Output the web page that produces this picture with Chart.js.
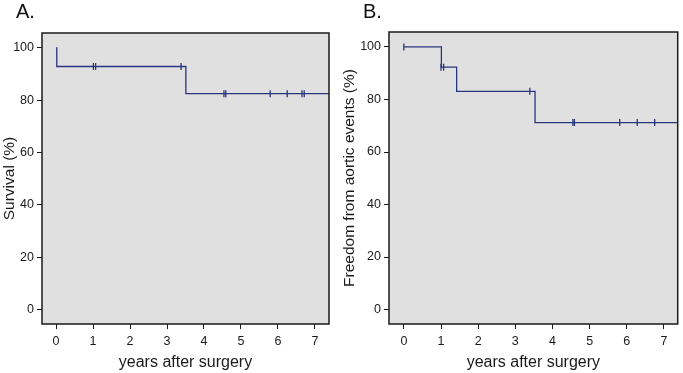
<!DOCTYPE html>
<html>
<head>
<meta charset="utf-8">
<script src="https://cdn.jsdelivr.net/npm/chart.js@4.4.1/dist/chart.umd.min.js"></script>
<style>
  body { margin: 0; background: #fff; font-family: "Liberation Sans", Arial, sans-serif; }
  .panel { position: absolute; top: 0; height: 373px; }
  .letter { position: absolute; top: 0; font-size: 20px; line-height: 22px; color: #111; }
</style>
</head>
<body>
<div class="panel" style="left:0;width:340px">
  <div class="letter" style="left:16px">A.</div>
  <canvas id="chartA" width="340" height="373"></canvas>
</div>
<div class="panel" style="left:340px;width:343px">
  <div class="letter" style="left:23px">B.</div>
  <canvas id="chartB" width="343" height="373"></canvas>
</div>
<script>
// tick labels
const xTicks = [0, 1, 2, 3, 4, 5, 6, 7];
const yTicks = [0, 20, 40, 60, 80, 100];

// A. survival - step curve
const survTimes = [0, 0.02, 3.51, 7.4];
const survValues = [100, 92.9, 82.5, 82.5];
// A. censored patients
const survCensorTimes = [1.01, 1.07, 3.38, 4.54, 4.59, 5.79, 6.25, 6.65, 6.71];
const survCensorValues = [92.9, 92.9, 92.9, 82.5, 82.5, 82.5, 82.5, 82.5, 82.5];

// B. freedom from aortic events - step curve
const aortTimes = [0, 1.01, 1.42, 3.53, 7.4];
const aortValues = [100, 92.3, 83.1, 71.2, 71.2];
// B. censored patients
const aortCensorTimes = [0, 1.0, 1.07, 3.39, 4.55, 4.59, 5.81, 6.28, 6.75];
const aortCensorValues = [100, 92.3, 92.3, 83.1, 71.2, 71.2, 71.2, 71.2, 71.2];

const corLinha = '#27357d';
const fonte = '"Liberation Sans", Arial, sans-serif';

const fundoCaixa = {
    id: 'fundoCaixa',
    beforeDatasetsDraw(chart) {
        const a = chart.chartArea, c = chart.ctx;
        c.save();
        c.fillStyle = '#e0e0e0';
        c.fillRect(a.left, a.top, a.right - a.left, a.bottom - a.top);
        c.restore();
    },
    afterDraw(chart) {
        const a = chart.chartArea, c = chart.ctx;
        c.save();
        c.strokeStyle = '#1a1a1a';
        c.lineWidth = 1.5;
        c.strokeRect(a.left, a.top, a.right - a.left, a.bottom - a.top);
        c.restore();
    }
};

function pares(xs, ys) {
    return xs.map((x, i) => ({ x: x, y: ys[i] }));
}

function criarGrafico(id, tempos, valores, tCens, vCens, yTitulo, cfg) {
    const ctx = document.getElementById(id).getContext('2d');
    return new Chart(ctx, {
        type: 'scatter',
        data: {
            datasets: [{
                data: pares(tempos, valores),
                showLine: true,
                stepped: true,
                borderColor: corLinha,
                borderWidth: 1.3,
                pointRadius: 0
            }, {
                data: pares(tCens, vCens),
                pointStyle: 'line',
                rotation: 90,
                pointRadius: 3.5,
                borderColor: corLinha,
                borderWidth: 1.3,
                showLine: false
            }]
        },
        options: {
            responsive: false,
            animation: false,
            layout: { padding: { top: cfg.top, right: cfg.right, left: 0, bottom: 0 } },
            plugins: { legend: { display: false }, tooltip: { enabled: false } },
            scales: {
                x: {
                    type: 'linear',
                    min: cfg.xmin,
                    max: cfg.xmax,
                    afterBuildTicks: s => { s.ticks = xTicks.map(v => ({ value: v })); },
                    afterFit: s => { s.height = 49; },
                    border: { display: false },
                    grid: { drawOnChartArea: false, drawTicks: true, tickLength: 5, color: '#1a1a1a', lineWidth: 1 },
                    ticks: { color: '#1a1a1a', font: { family: fonte, size: 12.5 }, padding: 5, maxRotation: 0 },
                    title: { display: true, text: 'years after surgery', color: '#1a1a1a', font: { family: fonte, size: 16 }, padding: { top: 0, bottom: 1 } }
                },
                y: {
                    type: 'linear',
                    min: -5.5,
                    max: 105.7,
                    afterBuildTicks: s => { s.ticks = yTicks.map(v => ({ value: v })); },
                    afterFit: s => { s.width = cfg.yWidth; },
                    border: { display: false },
                    grid: { drawOnChartArea: false, drawTicks: true, tickLength: 5, color: '#1a1a1a', lineWidth: 1 },
                    ticks: { color: '#1a1a1a', font: { family: fonte, size: 12.5 }, padding: 3 },
                    title: { display: true, text: yTitulo, color: '#1a1a1a', font: { family: fonte, size: 15.5 }, padding: { top: 0, bottom: 0 } }
                }
            }
        },
        plugins: [fundoCaixa]
    });
}

criarGrafico('chartA', survTimes, survValues, survCensorTimes, survCensorValues, 'Survival (%)',
    { top: 33, right: 11, xmin: -0.38, xmax: 7.38, yWidth: 42 });
criarGrafico('chartB', aortTimes, aortValues, aortCensorTimes, aortCensorValues, 'Freedom from aortic events (%)',
    { top: 32, right: 3, xmin: -0.4, xmax: 7.37, yWidth: 49 });
</script>
</body>
</html>
